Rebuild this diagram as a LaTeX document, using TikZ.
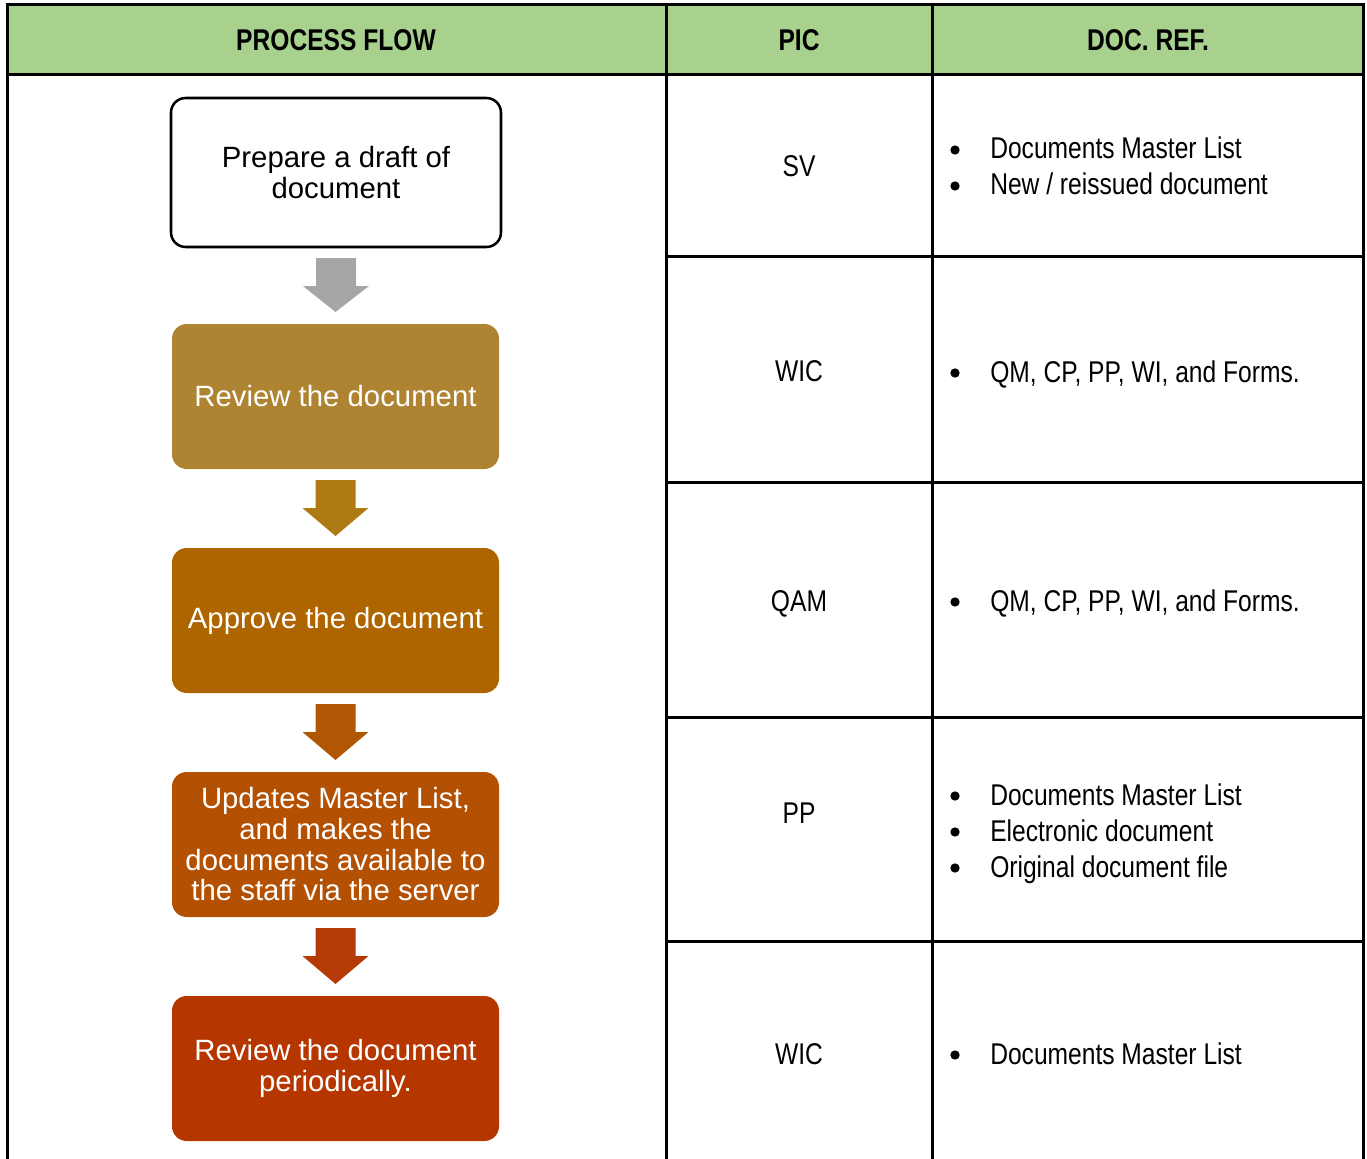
\documentclass[tikz,border=0pt]{standalone}
\usepackage{fontspec}
\setmainfont{Liberation Sans}
\newfontfamily\narrowfont[FakeStretch=0.82]{Liberation Sans}
\usetikzlibrary{calc}
\definecolor{hdr}{RGB}{169,209,142}
\definecolor{arrgray}{RGB}{166,166,166}
\definecolor{boxB}{RGB}{174,132,50}
\definecolor{arrB}{RGB}{174,122,20}
\definecolor{boxC}{RGB}{174,101,0}
\definecolor{arrC}{RGB}{176,86,4}
\definecolor{boxD}{RGB}{180,80,2}
\definecolor{arrD}{RGB}{181,58,4}
\definecolor{boxE}{RGB}{182,54,0}
\newcommand\blockarrow[3]{%
  \fill[#3] ($(#1.south)+(-20,11)$) -- ($(#1.south)+(20,11)$) -- ($(#1.south)+(20,39)$)
    -- ($(#1.south)+(33,39)$) -- ($(#2.north)+(0,-12)$) -- ($(#1.south)+(-33,39)$)
    -- ($(#1.south)+(-20,39)$) -- cycle;}
\begin{document}
\begin{tikzpicture}[x=0.75pt,y=-0.75pt,
  flowbox/.style={rounded corners=11pt, minimum width=245.25pt, minimum height=108.75pt,
    inner sep=0pt, outer sep=0pt, align=center, font=\fontsize{22}{23}\selectfont, text=white},
  tbl/.style={font=\narrowfont\fontsize{22.5}{26}\selectfont, anchor=base, inner sep=0pt},
  tblhead/.style={font=\narrowfont\bfseries\fontsize{22.5}{26}\selectfont, anchor=base, inner sep=0pt},
  bul/.style={circle, fill=black, inner sep=0pt, minimum size=7pt},
  item/.style={tbl, anchor=base west},
  rule/.style={line width=2.25pt, black}]
\useasboundingbox (0,0) rectangle (1367,1159);
% table
\fill[hdr] (7,5) rectangle (1363,75);
\draw[rule] (7,1159) -- (7,5) -- (1363,5) -- (1363,1159);
\draw[rule] (7,75) -- (1363,75);
\draw[rule] (666,5) -- (666,1159);
\draw[rule] (932,5) -- (932,1159);
\foreach \yy in {256,482,717,941} \draw[rule] (666,\yy) -- (1363,\yy);
\node[tblhead] (h1) at (336,51) {PROCESS FLOW};
\node[tblhead] (h2) at (799,51) {PIC};
\node[tblhead] (h3) at (1148,51) {DOC. REF.};
% flow boxes
\node[flowbox, draw=black, line width=1.9pt, fill=white, text=black, minimum width=247.5pt, minimum height=111.75pt] (b1) at (336,172.5) {Prepare a draft of\\document};
\node[flowbox, fill=boxB] (b2) at (335.5,396.5) {Review the document};
\node[flowbox, fill=boxC] (b3) at (335.5,620.5) {Approve the document};
\node[flowbox, fill=boxD] (b4) at (335.5,844.5) {Updates Master List,\\and makes the\\documents available to\\the staff via the server};
\node[flowbox, fill=boxE] (b5) at (335.5,1068.5) {Review the document\\periodically.};
\blockarrow{b1}{b2}{arrgray}
\blockarrow{b2}{b3}{arrB}
\blockarrow{b3}{b4}{arrC}
\blockarrow{b4}{b5}{arrD}
% PIC
\node[tbl] (p1) at (799,176) {SV};
\node[tbl] (p2) at (799,381) {WIC};
\node[tbl] (p3) at (799,611) {QAM};
\node[tbl] (p4) at (799,823) {PP};
\node[tbl] (p5) at (799,1064) {WIC};
% doc refs
\node[bul] (u11) at (955,150) {}; \node[item] (d11) at (990,159) {Documents Master List};
\node[bul] (u12) at (955,186) {}; \node[item] (d12) at (990,195) {New / reissued document};
\node[bul] (u21) at (955,373) {}; \node[item] (d21) at (990,382) {QM, CP, PP, WI, and Forms.};
\node[bul] (u31) at (955,602) {}; \node[item] (d31) at (990,611) {QM, CP, PP, WI, and Forms.};
\node[bul] (u41) at (955,796) {}; \node[item] (d41) at (990,805) {Documents Master List};
\node[bul] (u42) at (955,832) {}; \node[item] (d42) at (990,841) {Electronic document};
\node[bul] (u43) at (955,868) {}; \node[item] (d43) at (990,877) {Original document file};
\node[bul] (u51) at (955,1055) {}; \node[item] (d51) at (990,1064) {Documents Master List};
\end{tikzpicture}
\end{document}
